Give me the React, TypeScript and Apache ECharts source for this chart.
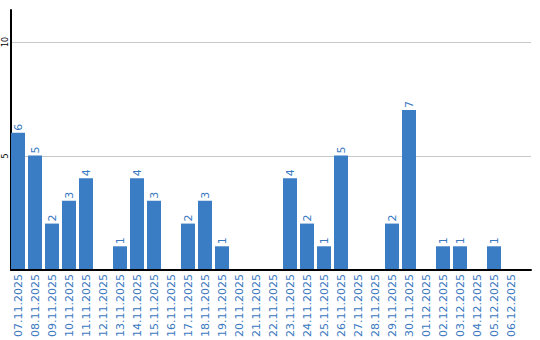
import React, { useEffect, useRef } from "react";
import * as echarts from "echarts";

const categories = [
  "07.11.2025", "08.11.2025", "09.11.2025", "10.11.2025", "11.11.2025",
  "12.11.2025", "13.11.2025", "14.11.2025", "15.11.2025", "16.11.2025",
  "17.11.2025", "18.11.2025", "19.11.2025", "20.11.2025", "21.11.2025",
  "22.11.2025", "23.11.2025", "24.11.2025", "25.11.2025", "26.11.2025",
  "27.11.2025", "28.11.2025", "29.11.2025", "30.11.2025", "01.12.2025",
  "02.12.2025", "03.12.2025", "04.12.2025", "05.12.2025", "06.12.2025",
];
const values = [6, 5, 2, 3, 4, 0, 1, 4, 3, 0, 2, 3, 1, 0, 0, 0, 4, 2, 1, 5, 0, 0, 2, 7, 0, 1, 1, 0, 1, 0];
const yTickLabels = [5, 10];
const Y_MAX = 11.4;

const BLUE = "#3b7dc4";
const LABEL_BLUE = "#3a78c0";

export default function App() {
  const ref = useRef<HTMLDivElement>(null);
  useEffect(() => {
    if (!ref.current) return;
    const chart = echarts.init(ref.current, null, { renderer: "svg" });
    chart.setOption({
      animation: false,
      grid: [
        { left: 11, top: 10, width: 520, height: 260, containLabel: false },
        { left: 9.5, top: 10, width: 510, height: 260, containLabel: false },
      ],
      xAxis: [
        {
          gridIndex: 0,
          type: "value",
          min: 0,
          max: 1,
          axisLine: { show: true, onZero: false, lineStyle: { color: "#000", width: 2 } },
          axisTick: { show: false },
          axisLabel: { show: false },
          splitLine: { show: false },
        },
        {
          gridIndex: 1,
          type: "category",
          data: categories,
          axisLine: { show: false },
          axisTick: { show: false },
          axisLabel: {
            rotate: 90,
            interval: 0,
            margin: 5,
            color: LABEL_BLUE,
            fontFamily: "DejaVu Sans",
            fontSize: 11,
          },
        },
      ],
      yAxis: [
        {
          gridIndex: 0,
          type: "value",
          min: 0,
          max: Y_MAX,
          interval: 5,
          axisLine: { show: true, lineStyle: { color: "#000", width: 2 } },
          axisTick: { show: false },
          splitLine: { show: true, showMaxLine: false, lineStyle: { color: "#c8c8c8", width: 1 } },
          axisLabel: {
            rotate: 90,
            margin: 2,
            showMaxLabel: false,
            color: "#000",
            fontFamily: "DejaVu Sans",
            fontSize: 8,
            formatter: (v: number) => (yTickLabels.includes(v) ? String(v) : ""),
          },
        },
        {
          gridIndex: 1,
          type: "value",
          min: 0,
          max: Y_MAX,
          show: false,
        },
      ],
      series: [
        {
          type: "bar",
          xAxisIndex: 1,
          yAxisIndex: 1,
          data: values,
          barWidth: 14,
          itemStyle: { color: BLUE },
          z: 3,
          label: {
            show: true,
            position: "top",
            rotate: 90,
            align: "left",
            verticalAlign: "middle",
            distance: 2,
            color: LABEL_BLUE,
            fontFamily: "DejaVu Sans",
            fontSize: 11,
            formatter: (p: any) => (p.value ? String(p.value) : ""),
          },
        },
      ],
    });
    return () => chart.dispose();
  }, []);
  return <div ref={ref} style={{ width: 540, height: 340, position: "absolute", left: 0, top: 0 }} />;
}
